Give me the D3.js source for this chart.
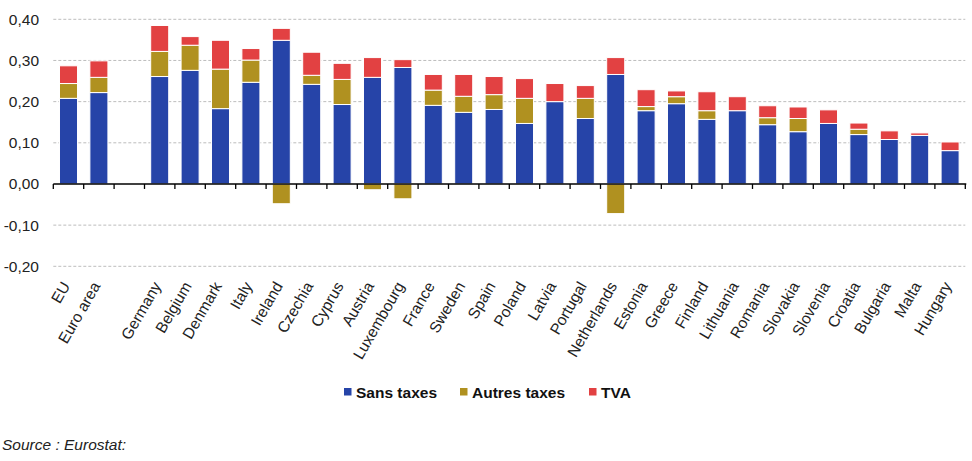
<!DOCTYPE html>
<html>
<head>
<meta charset="utf-8">
<script src="https://cdn.jsdelivr.net/npm/d3@7/dist/d3.min.js"></script>
<style>
html,body{margin:0;padding:0;background:#fff;}
svg{display:block;font-family:"Liberation Sans",Arial,sans-serif;}
</style>
</head>
<body>
<svg id="chart" width="972" height="461"></svg>
<script>
const categories = ["EU","Euro area","","Germany","Belgium","Denmark","Italy","Ireland","Czechia","Cyprus","Austria","Luxembourg","France","Sweden","Spain","Poland","Latvia","Portugal","Netherlands","Estonia","Greece","Finland","Lithuania","Romania","Slovakia","Slovenia","Croatia","Bulgaria","Malta","Hungary"];
const sansTaxes   = [0.208,0.222,0,0.261,0.276,0.183,0.247,0.349,0.242,0.193,0.259,0.283,0.191,0.174,0.181,0.147,0.200,0.159,0.266,0.178,0.195,0.157,0.178,0.144,0.127,0.147,0.120,0.108,0.118,0.081];
const autresTaxes = [0.036,0.037,0,0.061,0.061,0.096,0.054,-0.048,0.022,0.061,-0.014,-0.036,0.037,0.039,0.036,0.061,0,0.049,-0.072,0.010,0.017,0.021,0,0.017,0.032,0,0.013,0,0,0];
const tva         = [0.043,0.040,0,0.063,0.021,0.070,0.028,0.029,0.056,0.039,0.048,0.019,0.038,0.053,0.044,0.048,0.044,0.031,0.041,0.041,0.014,0.046,0.034,0.029,0.028,0.033,0.015,0.021,0.006,0.021];
const seriesNames = ["Sans taxes","Autres taxes","TVA"];
const seriesColors = ["#2644a8","#b09120","#e24142"];
const yTicks = [-0.2,-0.1,0,0.1,0.2,0.3,0.4];
const sourceText = "Source : Eurostat:";

const svg = d3.select("#chart");
const pLeft = 53.3, pRight = 965.3, pTop = 19.3, pBottom = 266.3;

const rows = categories.map((c,i)=>({idx:String(i), cat:c, s0:sansTaxes[i], s1:autresTaxes[i], s2:tva[i]}));
const x = d3.scaleBand().domain(rows.map(r=>r.idx)).range([pLeft,pRight]).paddingInner(0.44).paddingOuter(0.22);
const y = d3.scaleLinear().domain([-0.2,0.4]).range([pBottom,pTop]);
const fmt = v => d3.format(".2f")(v).replace(".",",").replace("\u2212","-");

// gridlines
svg.append("g").selectAll("line").data(yTicks.filter(t=>t!==0)).join("line")
  .attr("x1",pLeft).attr("x2",pRight)
  .attr("y1",d=>y(d)).attr("y2",d=>y(d))
  .attr("stroke","#bdbdbd").attr("stroke-width",1).attr("stroke-dasharray","3,2");

// y labels
const yAxis = d3.axisLeft(y).tickValues(yTicks).tickFormat(fmt).tickSize(0).tickPadding(0);
const gy = svg.append("g").attr("transform",`translate(39,0)`).call(yAxis);
gy.select(".domain").remove();
gy.selectAll("text").attr("font-size","15.5px").attr("fill","#222").attr("font-family","'Liberation Sans',Arial,sans-serif");

// stack
const stack = d3.stack().keys(["s0","s1","s2"]).offset(d3.stackOffsetDiverging);
const stacked = stack(rows);
svg.append("g").selectAll("g").data(stacked).join("g")
  .attr("fill",(d,i)=>seriesColors[i])
  .selectAll("rect").data(d=>d.filter(p=>p.data.cat!=="")).join("rect")
  .attr("x",d=>x(d.data.idx)-0.5)
  .attr("width",x.bandwidth()+1)
  .attr("y",d=>y(Math.max(d[0],d[1])))
  .attr("height",d=>Math.abs(y(d[0])-y(d[1])))
  .attr("stroke","#fff").attr("stroke-width",1);

// zero axis with ticks at band boundaries
const boundaries = d3.range(categories.length+1).map(i=>pLeft + i*x.step());
const gx = svg.append("g");
gx.append("line").attr("x1",pLeft).attr("x2",pRight+1).attr("y1",y(0)).attr("y2",y(0))
  .attr("stroke","#000").attr("stroke-width",1.5);
gx.selectAll("line.tk").data(boundaries).join("line").attr("class","tk")
  .attr("x1",d=>d).attr("x2",d=>d).attr("y1",y(0)).attr("y2",y(0)+5)
  .attr("stroke","#000").attr("stroke-width",1.3);

// x labels
svg.append("g").selectAll("text").data(rows.filter(r=>r.cat!=="")).join("text")
  .attr("transform",d=>`translate(${x(d.idx)+x.bandwidth()/2+2},${pBottom+19.5}) rotate(-60)`)
  .attr("text-anchor","end")
  .attr("font-size","15.5px").attr("fill","#222")
  .text(d=>d.cat);

// legend
const legendItems = [{x:344,name:seriesNames[0],c:seriesColors[0]},{x:460,name:seriesNames[1],c:seriesColors[1]},{x:589,name:seriesNames[2],c:seriesColors[2]}];
const lg = svg.append("g");
lg.selectAll("rect").data(legendItems).join("rect")
  .attr("x",d=>d.x).attr("y",388).attr("width",7.5).attr("height",7.5).attr("fill",d=>d.c);
lg.selectAll("text").data(legendItems).join("text")
  .attr("x",d=>d.x+12).attr("y",397.5)
  .attr("font-size","15.5px").attr("font-weight","bold").attr("fill","#111")
  .text(d=>d.name);

// source
svg.append("text").attr("x",2).attr("y",450).attr("font-size","15.5px").attr("font-style","italic").attr("fill","#222").text(sourceText);
</script>
</body>
</html>
